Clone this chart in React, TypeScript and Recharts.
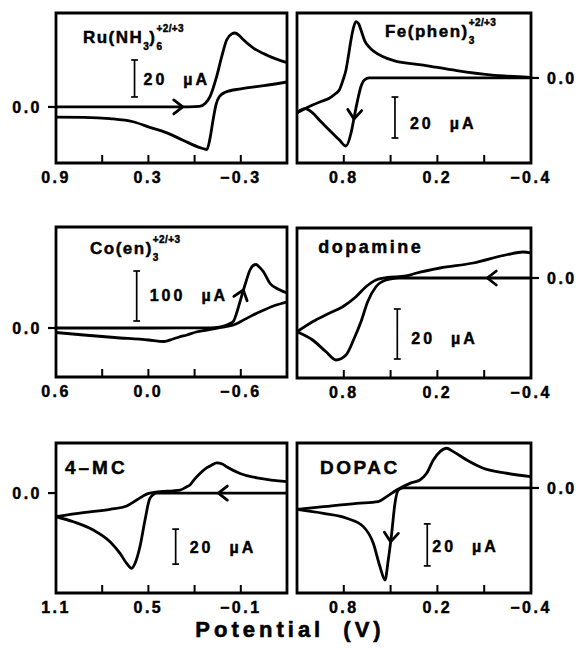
import { LineChart, Line, XAxis, YAxis, ReferenceArea, ReferenceLine, ReferenceDot } from 'recharts'

type Pt = [number, number]
type Piece = [string, 'm' | 'sub' | 'sup']

// potential (V), current (µA) - one array per sweep direction

// Ru(NH3)6 +2/+3
const ruForward: Pt[] = [
  [0.9, 0], [0.5, 0], [0.1, 0], [-0.03, 0.3], [-0.07, 2], [-0.1, 5.6], [-0.143, 16.4], [-0.176, 27.2],
  [-0.208, 36.2], [-0.241, 39.5], [-0.262, 40], [-0.29, 38.6], [-0.315, 36.5], [-0.38, 32], [-0.47, 28], [-0.6, 24],
]
const ruReverse: Pt[] = [
  [0.9, -5.5], [0.72, -5.6], [0.55, -6.3], [0.4, -8], [0.29, -11], [0.18, -14], [0.075, -18], [-0.035, -22],
  [-0.08, -23], [-0.1, -17], [-0.12, -7], [-0.14, 1.5], [-0.16, 5.5], [-0.2, 8], [-0.3, 9.8], [-0.45, 11.5], [-0.6, 13.5],
]
const ruTicks = [0.9, 0.6, 0.3, 0, -0.3]
const ruTickLabels = [0.9, 0.3, -0.3]

// Fe(phen)3 +2/+3
const feForward: Pt[] = [
  [1.1, -17], [1.05, -15], [1.0, -17], [0.957, -20.5], [0.893, -25.4], [0.829, -30.2], [0.786, -33.2], [0.754, -27],
  [0.733, -18.9], [0.711, -10.7], [0.69, -4.2], [0.668, -1], [0.637, 0], [0.3, 0], [-0.4, 0],
]
const feReverse: Pt[] = [
  [1.1, -17], [1.05, -15], [1.0, -13.2], [0.95, -11.6], [0.893, -9.9], [0.85, -7.5], [0.829, -5.9], [0.805, -1],
  [0.786, 3.9], [0.77, 11], [0.754, 18.5], [0.738, 24.5], [0.722, 27.5], [0.705, 26.5], [0.69, 23.4], [0.665, 18],
  [0.637, 15], [0.551, 10.5], [0.48, 8.5], [0.29, 6.3], [0.076, 3.6], [-0.137, 1.5], [-0.4, 0.3],
]
const wideTicks = [0.8, 0.5, 0.2, -0.1, -0.4]
const wideTickLabels = [0.8, 0.2, -0.4]

// Co(en)3 +2/+3
const coForward: Pt[] = [
  [0.6, 0], [0.0, 0], [-0.4, 0.3], [-0.46, 1.5], [-0.5, 5], [-0.53, 9], [-0.551, 13], [-0.573, 30], [-0.595, 53],
  [-0.627, 86], [-0.66, 116], [-0.68, 125], [-0.699, 127], [-0.72, 122], [-0.746, 113], [-0.79, 89], [-0.855, 76], [-0.9, 70],
]
const coReverse: Pt[] = [
  [0.6, -9], [0.42, -14], [0.22, -19], [0.0, -24], [-0.1, -27], [-0.16, -22], [-0.2, -18], [-0.25, -14], [-0.31, -8],
  [-0.38, -4], [-0.45, 0], [-0.51, 3], [-0.56, 7], [-0.6, 13], [-0.68, 26], [-0.75, 36], [-0.83, 46], [-0.9, 52],
]
const coTicks = [0.6, 0.3, 0, -0.3, -0.6]
const coTickLabels = [0.6, 0, -0.6]

// dopamine
const daForward: Pt[] = [
  [1.1, -21.5], [1.0, -24.8], [0.914, -29.5], [0.85, -32.8], [0.786, -30.8], [0.733, -24.1], [0.69, -17.5],
  [0.647, -9.5], [0.594, -3.5], [0.529, -0.8], [0.45, 0], [0.2, 0], [-0.4, 0],
]
const daReverse: Pt[] = [
  [1.1, -21.5], [1.0, -17.5], [0.893, -14.1], [0.807, -11.5], [0.722, -7.5], [0.658, -3.5], [0.594, -0.8],
  [0.529, 0.1], [0.401, 0.8], [0.333, 2], [0.183, 4], [-0.03, 6], [-0.244, 9.3], [-0.35, 10.4], [-0.4, 10],
]

// 4-MC
const mcForward: Pt[] = [
  [1.1, -13.5], [0.987, -16.4], [0.858, -21.1], [0.749, -27.8], [0.684, -34.5], [0.641, -40.2], [0.608, -43],
  [0.587, -40.2], [0.555, -30.7], [0.522, -15.4], [0.49, -3], [0.446, 0], [0.2, 0], [-0.4, 0],
]
const mcReverse: Pt[] = [
  [1.1, -13.5], [0.923, -11.2], [0.749, -9.3], [0.641, -7.4], [0.576, -4], [0.511, -0.6], [0.425, 0.8], [0.34, 1.3],
  [0.295, 1.7], [0.251, 3.6], [0.23, 4.6], [0.2, 8], [0.165, 11.2], [0.12, 14.5], [0.089, 16], [0.057, 17.3],
  [0.02, 16.6], [-0.008, 15], [-0.095, 11.2], [-0.225, 8.4], [-0.4, 6.5],
]
const mcTicks = [1.1, 0.8, 0.5, 0.2, -0.1]
const mcTickLabels = [1.1, 0.5, -0.1]

// DOPAC
const dopacForward: Pt[] = [
  [1.1, -10.2], [0.93, -12.1], [0.782, -14.4], [0.675, -18.4], [0.611, -26.3], [0.568, -37.5], [0.536, -43.8],
  [0.515, -34.3], [0.493, -21.6], [0.472, -7.3], [0.45, -1], [0.419, 0], [0.2, 0], [-0.4, 0],
]
const dopacReverse: Pt[] = [
  [1.1, -10.2], [0.93, -8.9], [0.717, -7.3], [0.579, -6.5], [0.525, -4.1], [0.461, -1], [0.376, 2.2], [0.312, 3.8],
  [0.269, 7], [0.226, 13.3], [0.183, 17.3], [0.141, 18.9], [0.098, 17.3], [0.012, 13.3], [-0.094, 9.4],
  [-0.244, 7], [-0.398, 5.4],
]

const FONT = '"Liberation Sans", Arial, Helvetica, sans-serif'
const PLOT_H = 150

interface PanelCfg {
  side: 'left' | 'right'
  top: number
  xDomain: [number, number]
  yDomain: [number, number]
  ticks: number[]
  labels: number[]
  branches: Pt[][]
  title: Piece[]
  titleAt: Pt
  titleSize: number
  titleSpacing: number
  bar: { e: number; lo: number; hi: number; text: string; dx: number; dy: number }
  arrow: { e: number; i: number; angle: number }
}

const panels: PanelCfg[] = [
  {
    side: 'left', top: 13, xDomain: [-0.6, 0.9], yDomain: [-30.3, 50.8],
    ticks: ruTicks, labels: ruTickLabels, branches: [ruForward, ruReverse],
    title: [['Ru(NH', 'm'], ['3', 'sub'], [')', 'm'], ['6', 'sub'], ['+2/+3', 'sup']], titleAt: [0.725, 34.8],
    titleSize: 17, titleSpacing: 1.5,
    bar: { e: 0.39, lo: 5.4, hi: 25.4, text: '20', dx: 9, dy: 1 },
    arrow: { e: 0.077, i: 0, angle: 0 },
  },
  {
    side: 'right', top: 13, xDomain: [-0.4, 1.1], yDomain: [-41.5, 31.7],
    ticks: wideTicks, labels: wideTickLabels, branches: [feForward, feReverse],
    title: [['Fe(phen)', 'm'], ['3', 'sub'], ['+2/+3', 'sup']], titleAt: [0.536, 20.1],
    titleSize: 17, titleSpacing: 1.5,
    bar: { e: 0.472, lo: -29.3, hi: -9.3, text: '20', dx: 15, dy: 5 },
    arrow: { e: 0.735, i: -20, angle: 95 },
  },
  {
    side: 'left', top: 227, xDomain: [-0.9, 0.6], yDomain: [-98, 202],
    ticks: coTicks, labels: coTickLabels, branches: [coForward, coReverse],
    title: [['Co(en)', 'm'], ['3', 'sub'], ['+2/+3', 'sup']], titleAt: [0.379, 149],
    titleSize: 17, titleSpacing: 1.5,
    bar: { e: 0.076, lo: 14, hi: 114, text: '100', dx: 13, dy: -1 },
    arrow: { e: -0.616, i: 76, angle: -72 },
  },
  {
    side: 'right', top: 228, xDomain: [-0.4, 1.1], yDomain: [-40, 20],
    ticks: wideTicks, labels: wideTickLabels, branches: [daForward, daReverse],
    title: [['dopamine', 'm']], titleAt: [0.963, 9.9],
    titleSize: 18, titleSpacing: 2.5,
    bar: { e: 0.457, lo: -32.4, hi: -12.4, text: '20', dx: 14, dy: 3.5 },
    arrow: { e: -0.12, i: 0, angle: 180 },
  },
  {
    side: 'left', top: 443, xDomain: [-0.4, 1.1], yDomain: [-57.1, 28.6],
    ticks: mcTicks, labels: mcTickLabels, branches: [mcForward, mcReverse],
    title: [['4\u2013MC', 'm']], titleAt: [1.042, 10.9],
    titleSize: 19, titleSpacing: 3,
    bar: { e: 0.323, lo: -40.6, hi: -20.6, text: '20', dx: 14, dy: 0.5 },
    arrow: { e: 0.046, i: 0, angle: 180 },
  },
  {
    side: 'right', top: 443, xDomain: [-0.4, 1.1], yDomain: [-50, 21.4],
    ticks: wideTicks, labels: wideTickLabels, branches: [dopacForward, dopacReverse],
    title: [['DOPAC', 'm']], titleAt: [0.953, 6.7],
    titleSize: 19, titleSpacing: 2.5,
    bar: { e: 0.265, lo: -37.1, hi: -17.1, text: '20', dx: 5, dy: 1 },
    arrow: { e: 0.5, i: -25.6, angle: 95 },
  },
]

const rows = (pts: Pt[]) => pts.map(([e, i]) => ({ e, i }))

const fmt = (v: number) =>
  Math.abs(v) < 1e-9 ? '0.0' : v < 0 ? '\u2212' + Math.abs(v).toFixed(1) : v.toFixed(1)

// heavy bold look of the original lettering
const textStyle = { fontFamily: FONT, fontWeight: 700, fill: '#000', stroke: '#000', strokeWidth: 0.45 }

function Title({ cx, cy, pieces, size, spacing }: { cx: number; cy: number; pieces: Piece[]; size: number; spacing: number }) {
  const shift = { m: 0, sub: 7, sup: -11 }
  let cur = 0
  return (
    <text x={cx} y={cy} fontSize={size} {...textStyle}>
      {pieces.map(([t, k], idx) => {
        const dy = shift[k] - cur
        cur = shift[k]
        const prev = pieces[idx - 1]
        const dx = k === 'sup' && prev && prev[1] === 'sub' ? -6 : 0
        return (
          <tspan key={idx} dx={dx} dy={dy} fontSize={k === 'm' ? size : 10} letterSpacing={k === 'm' ? spacing : 0.4}>
            {t}
          </tspan>
        )
      })}
    </text>
  )
}

function Arrow({ cx, cy, angle }: { cx: number; cy: number; angle: number }) {
  return (
    <g transform={`translate(${cx},${cy}) rotate(${angle})`}>
      <path d="M-9,-7 L0,0 L-9,7" fill="none" stroke="#000" strokeWidth={2.8} strokeLinecap="round" strokeLinejoin="round" />
    </g>
  )
}

function Panel({ cfg }: { cfg: PanelCfg }) {
  const isLeft = cfg.side === 'left'
  const [x0, x1] = cfg.xDomain
  const [y0, y1] = cfg.yDomain
  const { bar, arrow } = cfg
  const cap = 0.022
  // inward tick length: 8px expressed in current units
  const tickLen = ((y1 - y0) / PLOT_H) * 8

  return (
    <div style={{ position: 'absolute', left: isLeft ? 0 : 290, top: cfg.top - 13 }}>
      <LineChart
        width={290}
        height={193}
        margin={{ top: 13, right: isLeft ? 3 : 0, bottom: 0, left: isLeft ? 0 : 7 }}
      >
        <XAxis
          type="number"
          dataKey="e"
          domain={cfg.xDomain}
          reversed
          allowDataOverflow
          ticks={cfg.ticks}
          interval={0}
          axisLine={false}
          tickLine={false}
          tickSize={0}
          tickMargin={20}
          height={30}
          tick={(p: any) => {
            const v = p.payload.value
            const show = cfg.labels.some((l) => Math.abs(l - v) < 1e-9)
            if (!show) return <g />
            return (
              <text x={p.x} y={p.y} textAnchor="middle" fontSize={16} letterSpacing={2.5} {...textStyle}>
                {fmt(v)}
              </text>
            )
          }}
        />
        <YAxis
          type="number"
          orientation={cfg.side}
          width={isLeft ? 56 : 49}
          domain={cfg.yDomain}
          allowDataOverflow
          ticks={[0]}
          axisLine={false}
          tickSize={8}
          tickMargin={isLeft ? 6 : 8}
          tickLine={{ stroke: '#000', strokeWidth: 2.2 }}
          tick={(p: any) => (
            <text x={p.x} y={p.y + 6} textAnchor={isLeft ? 'end' : 'start'} fontSize={16} letterSpacing={2.5} {...textStyle}>
              {fmt(p.payload.value)}
            </text>
          )}
        />
        <ReferenceArea x1={x0} x2={x1} y1={y0} y2={y1} fill="none" stroke="#000" strokeWidth={2.8} ifOverflow="visible" />
        {cfg.ticks.map((t) => (
          <ReferenceLine
            key={`t${t}`}
            segment={[{ x: t, y: y0 }, { x: t, y: y0 + tickLen }]}
            stroke="#000"
            strokeWidth={2}
            ifOverflow="visible"
          />
        ))}
        {cfg.branches.map((b, k) => (
          <Line
            key={k}
            data={rows(b)}
            dataKey="i"
            type="monotone"
            stroke="#000"
            strokeWidth={2.8}
            dot={false}
            activeDot={false}
            isAnimationActive={false}
          />
        ))}
        {/* scale bar */}
        <ReferenceLine segment={[{ x: bar.e, y: bar.lo }, { x: bar.e, y: bar.hi }]} stroke="#000" strokeWidth={1.7} ifOverflow="visible" />
        <ReferenceLine segment={[{ x: bar.e + cap, y: bar.lo }, { x: bar.e - cap, y: bar.lo }]} stroke="#000" strokeWidth={1.7} ifOverflow="visible" />
        <ReferenceLine segment={[{ x: bar.e + cap, y: bar.hi }, { x: bar.e - cap, y: bar.hi }]} stroke="#000" strokeWidth={1.7} ifOverflow="visible" />
        <ReferenceDot
          x={bar.e}
          y={(bar.lo + bar.hi) / 2}
          r={1}
          ifOverflow="visible"
          shape={(p: any) => (
            <text x={p.cx + bar.dx} y={p.cy + bar.dy + 6} fontSize={16} letterSpacing={3} {...textStyle}>
              {bar.text}
              <tspan dx={16}>µA</tspan>
            </text>
          )}
        />
        <ReferenceDot
          x={arrow.e}
          y={arrow.i}
          r={1}
          ifOverflow="visible"
          shape={(p: any) => <Arrow cx={p.cx} cy={p.cy} angle={arrow.angle} />}
        />
        <ReferenceDot
          x={cfg.titleAt[0]}
          y={cfg.titleAt[1]}
          r={1}
          ifOverflow="visible"
          shape={(p: any) => (
            <Title cx={p.cx} cy={p.cy} pieces={cfg.title} size={cfg.titleSize} spacing={cfg.titleSpacing} />
          )}
        />
      </LineChart>
    </div>
  )
}

export default function App() {
  return (
    <div style={{ position: 'absolute', left: 0, top: 0, width: 580, height: 648, background: '#fff', overflow: 'hidden' }}>
      {panels.map((cfg, k) => (
        <Panel key={k} cfg={cfg} />
      ))}
      <svg width={580} height={648} style={{ position: 'absolute', left: 0, top: 0, pointerEvents: 'none' }}>
        <text x={290} y={637} textAnchor="middle" fontSize={22} letterSpacing={4} {...textStyle} strokeWidth={0.6}>
          {'Potential '}
          <tspan dx={9}>(V)</tspan>
        </text>
      </svg>
    </div>
  )
}
